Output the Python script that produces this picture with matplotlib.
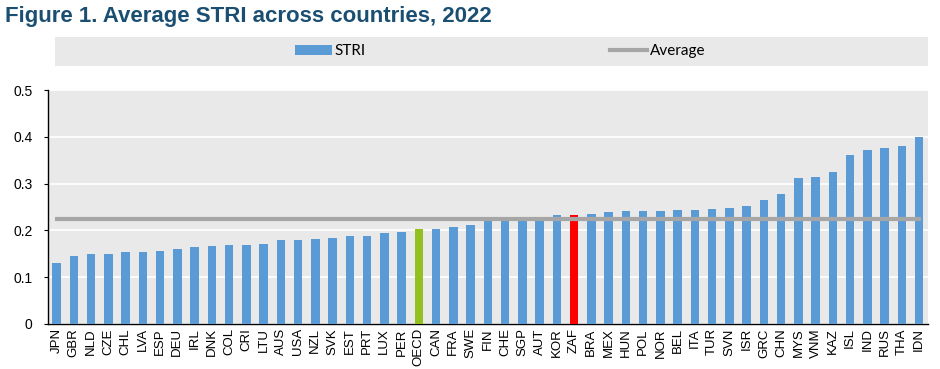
import numpy as np
import matplotlib
matplotlib.use('Agg')
import matplotlib.pyplot as plt
from matplotlib.patches import Patch
from matplotlib.lines import Line2D

plt.rcParams['font.family'] = ['Liberation Sans', 'DejaVu Sans']

# STRI by country, 2022
countries = ['JPN', 'GBR', 'NLD', 'CZE', 'CHL', 'LVA', 'ESP', 'DEU', 'IRL', 'DNK',
             'COL', 'CRI', 'LTU', 'AUS', 'USA', 'NZL', 'SVK', 'EST', 'PRT', 'LUX',
             'PER', 'OECD', 'CAN', 'FRA', 'SWE', 'FIN', 'CHE', 'SGP', 'AUT', 'KOR',
             'ZAF', 'BRA', 'MEX', 'HUN', 'POL', 'NOR', 'BEL', 'ITA', 'TUR', 'SVN',
             'ISR', 'GRC', 'CHN', 'MYS', 'VNM', 'KAZ', 'ISL', 'IND', 'RUS', 'THA', 'IDN']
stri = [0.131, 0.145, 0.149, 0.149, 0.154, 0.154, 0.155, 0.161, 0.165, 0.166,
        0.169, 0.169, 0.170, 0.179, 0.179, 0.181, 0.183, 0.187, 0.188, 0.194,
        0.197, 0.202, 0.203, 0.207, 0.211, 0.220, 0.224, 0.224, 0.227, 0.232,
        0.232, 0.236, 0.239, 0.241, 0.241, 0.241, 0.244, 0.244, 0.245, 0.248,
        0.253, 0.265, 0.278, 0.313, 0.314, 0.324, 0.361, 0.372, 0.377, 0.380, 0.400]
average = 0.224
highlight = {'OECD': '#92C01F', 'ZAF': '#FF0000'}

BAR = '#5B9BD5'
AVG = '#A6A6A6'
BG = '#E9E9E9'

fig = plt.figure(figsize=(9.4, 3.69), dpi=100)
ax = fig.add_axes([0.051, 0.122, 0.936, 0.634])
ax.set_facecolor(BG)

x = np.arange(len(countries))
colors = [highlight.get(c, BAR) for c in countries]
ax.bar(x, stri, width=0.5, color=colors, zorder=3)
ax.plot([x[0] - 0.1, x[-1] + 0.1], [average, average], color=AVG, lw=3, zorder=4,
        solid_capstyle='butt')

ax.set_xlim(-0.5, len(countries) - 0.5)
ax.set_ylim(0, 0.5)
ax.set_yticks([0, 0.1, 0.2, 0.3, 0.4, 0.5])
ax.set_yticklabels(['0', '0.1', '0.2', '0.3', '0.4', '0.5'], fontsize=10)
ax.set_xticks(x)
ax.set_xticklabels(countries, rotation=90, fontsize=9.5)
ax.tick_params(axis='x', length=0, pad=3)
ax.tick_params(axis='y', length=3, pad=8)
ax.grid(axis='y', color='white', lw=1.2, zorder=1)
for s in ['top', 'right']:
    ax.spines[s].set_visible(False)
for s in ['left', 'bottom']:
    ax.spines[s].set_color('black')
    ax.spines[s].set_linewidth(1.0)

# legend band
lax = fig.add_axes([0.0585, 0.821, 0.929, 0.079])
lax.set_facecolor(BG)
lax.set_xticks([])
lax.set_yticks([])
for s in lax.spines.values():
    s.set_visible(False)
handles = [Patch(facecolor=BAR, edgecolor='none'),
           Line2D([], [], color=AVG, lw=3)]
lax.legend(handles, ['STRI', 'Average'], loc='center', bbox_to_anchor=(0.51, 0.5),
           ncol=2, frameon=False, columnspacing=16, handlelength=2.4,
           handletextpad=0.2, prop={'family': ['Lato', 'DejaVu Sans'], 'size': 11})

fig.text(0.005, 0.955, 'Figure 1. Average STRI across countries, 2022',
         fontsize=16, fontweight='bold', color='#1B4F72', va='center',
         family=['Liberation Sans Narrow', 'Liberation Sans'])

fig.savefig('out.png', dpi=100)
